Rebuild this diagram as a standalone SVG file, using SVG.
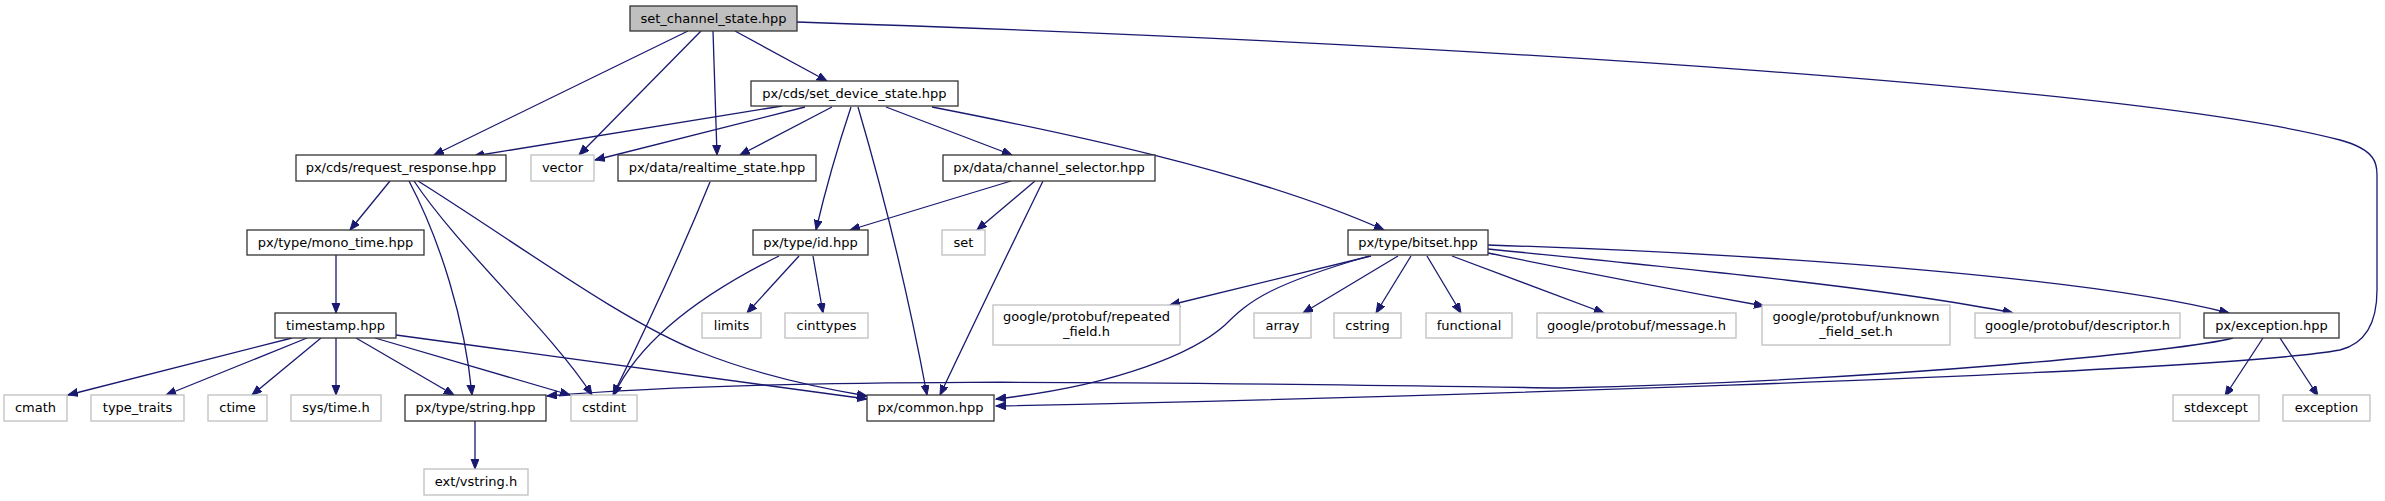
<svg xmlns="http://www.w3.org/2000/svg" width="2385" height="501" viewBox="0 0 2385 501">
<style>
.n rect{fill:#ffffff;stroke:#333333;stroke-width:1.3}
.x rect{fill:#ffffff;stroke:#bfbfbf;stroke-width:1.3}
.r rect{fill:#bfbfbf;stroke:#333333;stroke-width:1.3}
text{font-family:"DejaVu Sans","Liberation Sans",sans-serif;font-size:13px;fill:#000000;text-anchor:middle}
#edges path{fill:none;stroke:#191970;stroke-width:1.3;marker-end:url(#ah)}
</style>
<defs>
<marker id="ah" markerUnits="userSpaceOnUse" markerWidth="12" markerHeight="10" refX="10" refY="4" orient="auto">
<path d="M0,0 L10,4 L0,8 z" fill="#191970" stroke="#191970" stroke-width="1"/>
</marker>
</defs>
<rect width="2385" height="501" fill="#ffffff"/>
<g id="edges">
<path d="M688,31 L434,155"/>
<path d="M701,31 L579,155"/>
<path d="M713,31 L717,155"/>
<path d="M735,31 L827,81"/>
<path d="M797,22 C1500,45 2150,90 2340,140 C2377,150 2377,165 2377,175 L2377,290 C2377,330 2360,345 2340,350 C2200,375 1300,400 996,406"/>
<path d="M782,106 L474,156"/>
<path d="M805,107 L595,160"/>
<path d="M832,107 L740,155"/>
<path d="M851,107 Q830,170 816,230"/>
<path d="M858,107 Q900,250 927,395"/>
<path d="M886,107 L1012,155"/>
<path d="M932,107 C1050,130 1250,170 1384,230"/>
<path d="M390,181 L350,230"/>
<path d="M409,181 C440,240 465,320 472,395"/>
<path d="M414,181 C460,250 550,330 592,395"/>
<path d="M418,181 C520,245 620,320 700,352 C760,376 820,388 867,396"/>
<path d="M710,182 Q670,280 613,395"/>
<path d="M779,256 C700,295 640,340 614,395"/>
<path d="M799,256 L747,313"/>
<path d="M813,256 L823,313"/>
<path d="M1011,181 L850,230"/>
<path d="M1035,181 L977,230"/>
<path d="M1043,181 Q985,300 940,395"/>
<path d="M1371,256 L1170,305"/>
<path d="M1369,256 C1270,285 1250,300 1225,325 C1195,352 1120,385 996,399"/>
<path d="M1398,256 L1303,313"/>
<path d="M1411,256 L1376,313"/>
<path d="M1427,256 L1461,313"/>
<path d="M1452,256 L1604,313"/>
<path d="M1488,253 Q1620,280 1764,306"/>
<path d="M1488,249 C1700,270 1900,290 2013,313"/>
<path d="M1488,245 C1800,255 2100,280 2229,313"/>
<path d="M2263,338 L2225,396"/>
<path d="M2280,338 L2318,396"/>
<path d="M2233,338 C2190,350 1900,380 1560,388 C1200,383 800,375 547,396"/>
<path d="M336,255 L336,313"/>
<path d="M292,338 L68,395"/>
<path d="M307,338 L166,395"/>
<path d="M321,338 L252,395"/>
<path d="M336,338 L336,395"/>
<path d="M356,338 L454,395"/>
<path d="M375,338 L570,395"/>
<path d="M396,335 L867,399"/>
<path d="M475,421 L475,469"/>
</g>
<g id="set_channel_state" class="r"><rect x="630" y="6" width="167" height="25"/><text x="713.5" y="23">set_channel_state.hpp</text></g>
<g id="set_device_state" class="n"><rect x="751" y="81" width="207" height="25"/><text x="854.5" y="98">px/cds/set_device_state.hpp</text></g>
<g id="request_response" class="n"><rect x="296" y="155" width="210" height="26"/><text x="401" y="172">px/cds/request_response.hpp</text></g>
<g id="vector" class="x"><rect x="531" y="155" width="63" height="26"/><text x="562.5" y="172">vector</text></g>
<g id="realtime_state" class="n"><rect x="618" y="155" width="198" height="26"/><text x="717" y="172">px/data/realtime_state.hpp</text></g>
<g id="channel_selector" class="n"><rect x="943" y="155" width="212" height="26"/><text x="1049" y="172">px/data/channel_selector.hpp</text></g>
<g id="mono_time" class="n"><rect x="247" y="230" width="177" height="25"/><text x="335.5" y="247">px/type/mono_time.hpp</text></g>
<g id="id" class="n"><rect x="753" y="230" width="115" height="25"/><text x="810.5" y="247">px/type/id.hpp</text></g>
<g id="set" class="x"><rect x="942" y="230" width="43" height="25"/><text x="963.5" y="247">set</text></g>
<g id="bitset" class="n"><rect x="1348" y="230" width="140" height="25"/><text x="1418" y="247">px/type/bitset.hpp</text></g>
<g id="timestamp" class="n"><rect x="275" y="313" width="121" height="25"/><text x="335.5" y="330">timestamp.hpp</text></g>
<g id="limits" class="x"><rect x="702" y="313" width="59" height="25"/><text x="731.5" y="330">limits</text></g>
<g id="cinttypes" class="x"><rect x="785" y="313" width="83" height="25"/><text x="826.5" y="330">cinttypes</text></g>
<g id="repeated_field" class="x"><rect x="993" y="305" width="187" height="40"/><text x="1086.5" y="321">google/protobuf/repeated</text><text x="1086.5" y="336">_field.h</text></g>
<g id="array" class="x"><rect x="1254" y="313" width="57" height="25"/><text x="1282.5" y="330">array</text></g>
<g id="cstring" class="x"><rect x="1334" y="313" width="67" height="25"/><text x="1367.5" y="330">cstring</text></g>
<g id="functional" class="x"><rect x="1426" y="313" width="86" height="25"/><text x="1469" y="330">functional</text></g>
<g id="message" class="x"><rect x="1537" y="313" width="199" height="25"/><text x="1636.5" y="330">google/protobuf/message.h</text></g>
<g id="unknown_field_set" class="x"><rect x="1762" y="305" width="188" height="40"/><text x="1856" y="321">google/protobuf/unknown</text><text x="1856" y="336">_field_set.h</text></g>
<g id="descriptor" class="x"><rect x="1975" y="313" width="205" height="25"/><text x="2077.5" y="330">google/protobuf/descriptor.h</text></g>
<g id="exception_hpp" class="n"><rect x="2204" y="313" width="135" height="25"/><text x="2271.5" y="330">px/exception.hpp</text></g>
<g id="cmath" class="x"><rect x="4" y="395" width="63" height="26"/><text x="35.5" y="412">cmath</text></g>
<g id="type_traits" class="x"><rect x="91" y="395" width="93" height="26"/><text x="137.5" y="412">type_traits</text></g>
<g id="ctime" class="x"><rect x="208" y="395" width="59" height="26"/><text x="237.5" y="412">ctime</text></g>
<g id="sys_time" class="x"><rect x="291" y="395" width="90" height="26"/><text x="336" y="412">sys/time.h</text></g>
<g id="string" class="n"><rect x="405" y="395" width="141" height="26"/><text x="475.5" y="412">px/type/string.hpp</text></g>
<g id="cstdint" class="x"><rect x="571" y="395" width="66" height="26"/><text x="604" y="412">cstdint</text></g>
<g id="common" class="n"><rect x="867" y="395" width="127" height="26"/><text x="930.5" y="412">px/common.hpp</text></g>
<g id="stdexcept" class="x"><rect x="2173" y="395" width="86" height="26"/><text x="2216" y="412">stdexcept</text></g>
<g id="exception" class="x"><rect x="2283" y="395" width="87" height="26"/><text x="2326.5" y="412">exception</text></g>
<g id="vstring" class="x"><rect x="424" y="469" width="104" height="26"/><text x="476" y="486">ext/vstring.h</text></g>
</svg>
